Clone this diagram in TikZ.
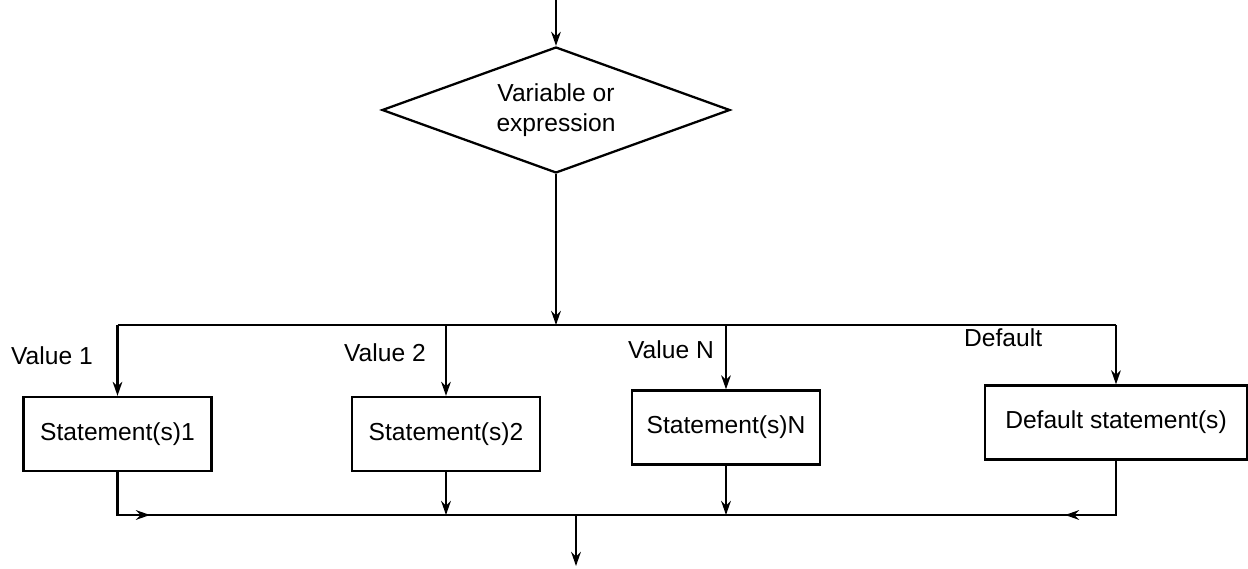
\documentclass[tikz,border=0pt]{standalone}
\usepackage{fontspec}
\setmainfont{Liberation Sans}
\usepackage{tikz}
\usetikzlibrary{arrows.meta, shapes.geometric, positioning}
\tikzset{decision/.style={diamond, draw, aspect=2.76, inner sep=0pt, minimum width=6.96cm, minimum height=2.52cm, align=center},
         stmt/.style={rectangle, draw, minimum width=3.76cm, minimum height=1.48cm, inner sep=2pt},
         case/.style={anchor=west, inner sep=0pt}}

\begin{document}
\begin{tikzpicture}[>={Stealth[length=8pt,width=5.5pt]}, line width=1.3pt, font=\fontsize{14}{17}\selectfont]
\useasboundingbox (0,0) rectangle (24.96,-11.38);
\coordinate (in) at (11.12,0);
\node[decision] (cond) at (11.12,-2.2) {Variable or\\expression};
\coordinate (busL) at (2.35,-6.5);
\coordinate (busR) at (22.32,-6.5);
\node[stmt] (s1) at (2.35,-8.68) {Statement(s)1};
\node[stmt] (s2) at (8.92,-8.68) {Statement(s)2};
\node[stmt] (sN) at (14.52,-8.55) {Statement(s)N};
\node[stmt, minimum width=5.24cm] (sd) at (22.32,-8.45) {Default statement(s)};
\node[case] (v1) at (0.2,-7.12) {Value 1};
\node[case] (v2) at (6.86,-7.05) {Value 2};
\node[case] (vN) at (12.54,-7.0) {Value N};
\node[case] (vd) at (19.26,-6.75) {Default};
\coordinate (botL) at (2.35,-10.3);
\coordinate (botR) at (22.32,-10.3);
\coordinate (inL) at (3.0,-10.3);
\coordinate (inR) at (21.3,-10.3);
\coordinate (out) at (11.52,-11.32);
% switch into the cases
\draw[->] (in) -- (cond);
\draw[->] (cond) -- (cond |- busL);
\draw (busL) -- (busR);
\draw[->] (busL) -- (s1);
\draw[->] (s2 |- busL) -- (s2);
\draw[->] (sN |- busL) -- (sN);
\draw[->] (busR) -- (sd);
% cases join again
\draw (s1) -- (botL) -- (botR) -- (sd);
\draw[->] (botL) -- (inL);
\draw[->] (botR) -- (inR);
\draw[->] (s2) -- (s2 |- botL);
\draw[->] (sN) -- (sN |- botL);
\draw[->] (out |- botL) -- (out);
\end{tikzpicture}
\end{document}
